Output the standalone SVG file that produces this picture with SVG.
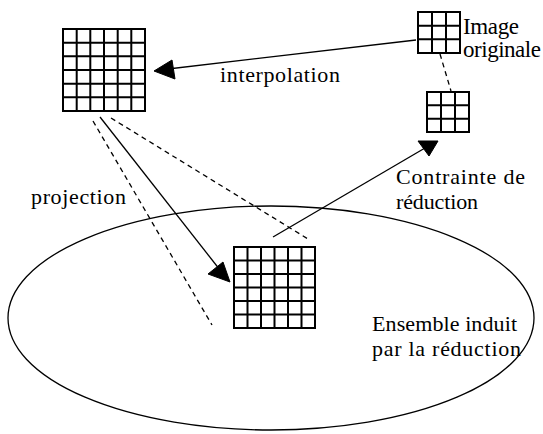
<svg xmlns="http://www.w3.org/2000/svg" width="543" height="434" viewBox="0 0 543 434">
<defs>
<style>
.g{fill:#fff;stroke:#000;stroke-width:2}
.gl{stroke:#000;stroke-width:2;fill:none}
.ln{stroke:#000;stroke-width:1.3;fill:none}
.dash{stroke:#000;stroke-width:1.3;fill:none;stroke-dasharray:5,4}
.ah{fill:#000;stroke:#000;stroke-width:1}
text{font-family:"Liberation Serif","Times New Roman",serif;font-size:22px;fill:#000}
.big{font-size:23px}
</style>
</defs>
<rect width="543" height="434" fill="#fff"/>
<g id="ensemble">
<ellipse cx="271" cy="318" rx="263" ry="112" class="ln"/>
<text x="372" y="331" textLength="145" lengthAdjust="spacing">Ensemble induit</text>
<text x="372" y="356" textLength="149" lengthAdjust="spacing">par la réduction</text>
</g>
<g id="connectors">
<line x1="416" y1="40" x2="168" y2="69" class="ln"/>
<polygon points="154,71 172,60 175,79" class="ah"/>
<line x1="440" y1="54" x2="451" y2="91" class="dash"/>
<line x1="100" y1="117" x2="220" y2="270" class="ln"/>
<polygon points="230,282 208,274 223,262" class="ah"/>
<line x1="93" y1="121" x2="212" y2="325" class="dash"/>
<line x1="111" y1="118" x2="308" y2="239" class="dash"/>
<line x1="273" y1="237" x2="425" y2="148" class="ln"/>
<polygon points="418,141 438,141 429,156" class="ah"/>
</g>
<g id="grand">
<rect x="63" y="29" width="82" height="82" class="g"/>
<path class="gl" d="M76.7,29V111M90.3,29V111M104,29V111M117.7,29V111M131.3,29V111M63,42.7H145M63,56.3H145M63,70H145M63,83.7H145M63,97.3H145"/>
<text x="220" y="82" textLength="120" lengthAdjust="spacing">interpolation</text>
<text x="31" y="204" textLength="95" lengthAdjust="spacing">projection</text>
</g>
<g id="originale">
<rect x="418" y="12" width="42" height="41" class="g"/>
<path class="gl" d="M432,12V53M446,12V53M418,25.7H460M418,39.3H460"/>
<text class="big" x="463" y="34" textLength="56" lengthAdjust="spacing">Image</text>
<text class="big" x="463" y="57" textLength="78" lengthAdjust="spacing">originale</text>
</g>
<g id="reduite">
<rect x="427" y="92" width="42" height="40" class="g"/>
<path class="gl" d="M441,92V132M455,92V132M427,105.3H469M427,118.7H469"/>
<text x="396" y="184" textLength="129" lengthAdjust="spacing">Contrainte de</text>
<text x="396" y="209" textLength="82" lengthAdjust="spacing">réduction</text>
</g>
<g id="projete">
<rect x="234" y="247" width="81" height="81" class="g"/>
<path class="gl" d="M247.5,247V328M261,247V328M274.5,247V328M288,247V328M301.5,247V328M234,260.5H315M234,274H315M234,287.5H315M234,301H315M234,314.5H315"/>
</g>
</svg>
